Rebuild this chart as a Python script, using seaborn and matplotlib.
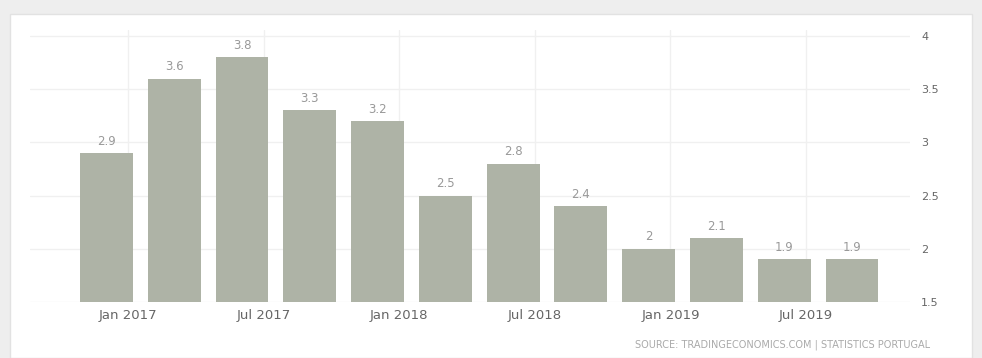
import matplotlib
matplotlib.use("Agg")
import matplotlib.pyplot as plt
import seaborn as sns
import pandas as pd
from matplotlib.patches import Rectangle

quarters = ["Q1 2017", "Q2 2017", "Q3 2017", "Q4 2017", "Q1 2018", "Q2 2018",
            "Q3 2018", "Q4 2018", "Q1 2019", "Q2 2019", "Q3 2019", "Q4 2019"]
values = [2.9, 3.6, 3.8, 3.3, 3.2, 2.5, 2.8, 2.4, 2.0, 2.1, 1.9, 1.9]
value_labels = ["2.9", "3.6", "3.8", "3.3", "3.2", "2.5", "2.8", "2.4", "2", "2.1", "1.9", "1.9"]
tick_labels = ["Jan 2017", "Jul 2017", "Jan 2018", "Jul 2018", "Jan 2019", "Jul 2019"]
y_ticks = [1.5, 2, 2.5, 3, 3.5, 4]
y_tick_labels = ["1.5", "2", "2.5", "3", "3.5", "4"]
source = "SOURCE: TRADINGECONOMICS.COM | STATISTICS PORTUGAL"

sns.set_theme(style="white")
plt.rcParams['font.family'] = ['DejaVu Sans']

W, H = 982, 358
fig = plt.figure(figsize=(W / 100, H / 100), dpi=100)
fig.patch.set_facecolor("#eeeeee")
fig.patches.append(Rectangle((10 / W, 0), (972 - 10) / W, (H - 14) / H,
                             transform=fig.transFigure, facecolor="white",
                             edgecolor="#e2e2e2", lw=1, zorder=-5))

left, right, top, bottom = 30, 910, 30, 302
ax = fig.add_axes([left / W, 1 - bottom / H, (right - left) / W, (bottom - top) / H])
ax.set_facecolor("none")

df = pd.DataFrame({"quarter": quarters, "value": values})
sns.barplot(data=df, x="quarter", y="value", color="#aeb3a6", saturation=1,
            width=0.78, linewidth=0, ax=ax, zorder=3)

ax.set_ylim(1.5, 4.056)
spacing = 67.8
ax.set_xlim(-(106.5 - left) / spacing, 11 + (right - 852) / spacing)

for i, (v, lab) in enumerate(zip(values, value_labels)):
    ax.text(i, v + 0.05, lab, ha="center", va="bottom", fontsize=8.5, color="#999999")

xt = [0.32 + 2 * k for k in range(len(tick_labels))]
ax.set_xticks(xt)
ax.set_xticklabels(tick_labels, fontsize=9.5, color="#666666")
ax.yaxis.tick_right()
ax.set_yticks(y_ticks)
ax.set_yticklabels(y_tick_labels, fontsize=8, color="#666666")
ax.tick_params(axis="x", length=0, pad=5)
ax.tick_params(axis="y", length=0, pad=8)
ax.set_xlabel("")
ax.set_ylabel("")
for s in ax.spines.values():
    s.set_visible(False)
ax.grid(True, axis="both", color="#f0f0f0", lw=1, zorder=0)
ax.set_axisbelow(True)

fig.text(930 / W, 1 - 345 / H, source, ha="right", va="center", fontsize=7, color="#aaaaaa")

fig.savefig("out.png", dpi=100, facecolor=fig.get_facecolor())
